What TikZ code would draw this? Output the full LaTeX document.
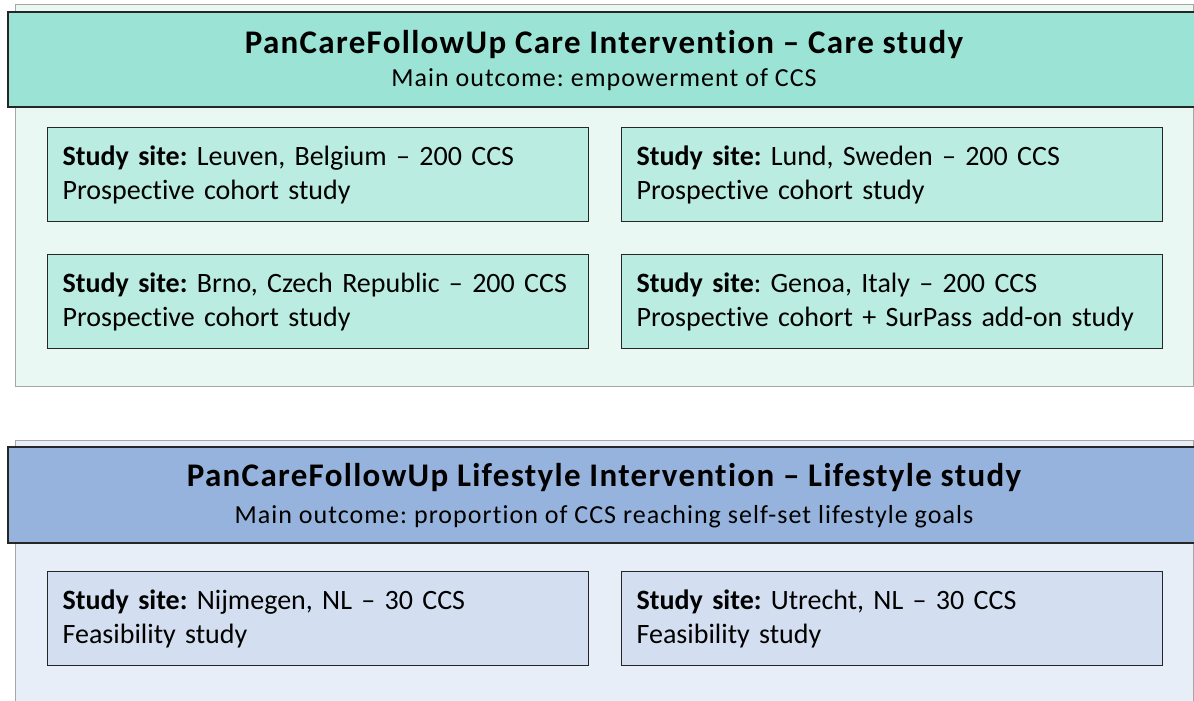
\documentclass[tikz,border=0pt]{standalone}
\usepackage{fontspec}
\setmainfont{Carlito}[Ligatures={TeX,NoCommon}]
\newfontfamily\headfont[LetterSpace=4,Ligatures=NoCommon]{Carlito}
\usepackage{tikz}
\frenchspacing

\definecolor{carehead}{HTML}{9AE3D5}
\definecolor{careback}{HTML}{EAF8F4}
\definecolor{carebox}{HTML}{BAECE1}
\definecolor{lifehead}{HTML}{95B3DC}
\definecolor{lifeback}{HTML}{E8EEF8}
\definecolor{lifebox}{HTML}{D3DFF0}

\tikzset{
  panel/.style={draw=black!35, line width=1pt},
  header/.style={draw=black!85, line width=1.3pt},
  title/.style={font=\headfont\fontsize{33}{40}\selectfont\bfseries},
  subtitle/.style={font=\headfont\fontsize{26}{30}\selectfont},
  site/.style={draw=black!85, line width=1.3pt, anchor=north west, align=left,
    text width=511pt, minimum width=541pt, minimum height=94pt, inner xsep=15pt,
    font=\fontsize{28}{34}\selectfont},
}

\begin{document}
\begin{tikzpicture}[x=1pt, y=-1pt]
        \useasboundingbox (0, 0) rectangle (1194, 701);
        % care study
        \filldraw[panel, fill=careback] (15, 5) rectangle (1193, 386);
        \filldraw[header, fill=carehead] (8, 12) rectangle (1210, 107);
        \node[title] (caretitle) at (604, 45) {PanCareFollowUp Care Intervention \textendash{} Care study};
        \node[subtitle] (caresub) at (604, 80) {Main outcome: empowerment of CCS};
        \node[site, fill=carebox] (leuven) at (47, 127)
          {\textbf{Study site:} Leuven, Belgium \textendash{} 200 CCS\\Prospective cohort study};
        \node[site, fill=carebox] (lund) at (621, 127)
          {\textbf{Study site:} Lund, Sweden \textendash{} 200 CCS\\Prospective cohort study};
        \node[site, fill=carebox] (brno) at (47, 254)
          {\textbf{Study site:} Brno, Czech Republic \textendash{} 200 CCS\\Prospective cohort study};
        \node[site, fill=carebox] (genoa) at (621, 254)
          {\textbf{Study site}: Genoa, Italy \textendash{} 200 CCS\\Prospective cohort + SurPass add-on study};
        % lifestyle study
        \filldraw[panel, fill=lifeback] (15, 440) rectangle (1193, 710);
        \filldraw[header, fill=lifehead] (8, 447) rectangle (1210, 543);
        \node[title] (lifetitle) at (604, 478) {PanCareFollowUp Lifestyle Intervention \textendash{} Lifestyle study};
        \node[subtitle] (lifesub) at (604, 517) {Main outcome: proportion of CCS reaching self-set lifestyle goals};
        \node[site, fill=lifebox] (nijmegen) at (47, 571)
          {\textbf{Study site:} Nijmegen, NL \textendash{} 30 CCS\\Feasibility study};
        \node[site, fill=lifebox] (utrecht) at (621, 571)
          {\textbf{Study site:} Utrecht, NL \textendash{} 30 CCS\\Feasibility study};
      \end{tikzpicture}
\end{document}
